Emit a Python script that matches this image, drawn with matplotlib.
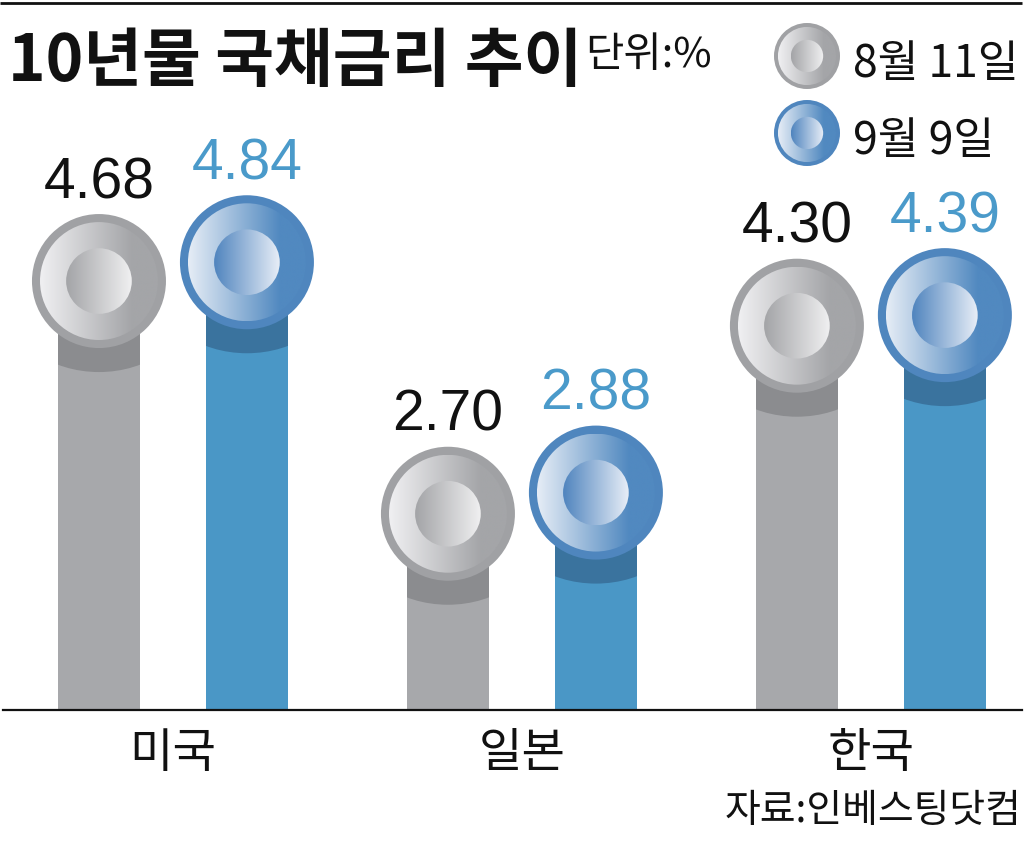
import numpy as np
import matplotlib
matplotlib.use('Agg')
import matplotlib.pyplot as plt
from matplotlib import font_manager, transforms
from matplotlib.patches import Circle, Ellipse
from matplotlib.colors import LinearSegmentedColormap

countries = ['미국', '일본', '한국']
series_names = ['8월 11일', '9월 9일']
aug_11 = [4.68, 2.70, 4.30]
sep_9 = [4.84, 2.88, 4.39]

available = {f.name for f in font_manager.fontManager.ttflist}
KR = 'Noto Sans CJK KR'
NUM = 'Liberation Sans Narrow' if 'Liberation Sans Narrow' in available else 'Liberation Sans'

INK = '#111111'
BLUE_TEXT = '#4a9aca'
PALETTES = {
    'gray': dict(bar='#a7a8ab', shadow='#8b8c8f', rim='#a0a1a4',
                 face=['#f0f0f2', '#a4a5a8', '#a4a5a8'],
                 inner=['#a3a4a7', '#f0f0f1']),
    'blue': dict(bar='#4a97c6', shadow='#3a739e', rim='#4f86be',
                 face=['#e6edf6', '#5189c0', '#5189c0'],
                 inner=['#4f84be', '#e8eef7']),
}
for p in PALETTES.values():
    p['face_cmap'] = LinearSegmentedColormap.from_list(
        'f', list(zip([0, 0.78, 1], p['face'])))
    p['inner_cmap'] = LinearSegmentedColormap.from_list('i', p['inner'])

W, H, DPI = 1027, 845, 100
fig = plt.figure(figsize=(W / DPI, H / DPI), dpi=DPI)
fig.patch.set_facecolor('white')

# chart area: baseline at y=711px, groups 349px apart
BASE, TOP = 1.03, 7.08
ax = fig.add_axes([3 / W, (H - 711) / H, 1019 / W, 711 / H])
ax.set_facecolor('white')
for side in ('top', 'right', 'left'):
    ax.spines[side].set_visible(False)
ax.spines['bottom'].set_color(INK)
ax.spines['bottom'].set_linewidth(1.6)
ax.set_yticks([])

x = np.arange(len(countries))
offset, width = 0.212, 0.235


def gradient_disc(axis, trans, r, cmap, zorder):
    disc = Circle((0, 0), r, transform=trans)
    grad = np.linspace(0, 1, 256).reshape(1, -1)
    im = axis.imshow(grad, cmap=cmap, extent=(-r, r, -r, r), transform=trans,
                     aspect='auto', interpolation='bilinear', zorder=zorder)
    im.set_clip_path(disc)


def knob(axis, trans, r, pal, zorder):
    axis.add_patch(Circle((0, 0), r, transform=trans, facecolor=pal['rim'],
                          edgecolor='none', zorder=zorder))
    gradient_disc(axis, trans, r * 0.88, pal['face_cmap'], zorder + 0.1)
    gradient_disc(axis, trans, r * 0.49, pal['inner_cmap'], zorder + 0.2)


px = transforms.Affine2D().scale(1 / DPI) + fig.dpi_scale_trans
R = 67

for vals, key, dx, color in [(aug_11, 'gray', -offset, INK),
                             (sep_9, 'blue', offset, BLUE_TEXT)]:
    pal = PALETTES[key]
    bars = ax.bar(x + dx, np.array(vals) - BASE, width, bottom=BASE,
                  color=pal['bar'], zorder=1)
    for xi, v, bar in zip(x + dx, vals, bars):
        trans = px + transforms.ScaledTranslation(xi, v, ax.transData)
        shadow = Ellipse((0, -24), 180, 2 * R, transform=trans,
                         facecolor=pal['shadow'], edgecolor='none', zorder=1.5)
        ax.add_patch(shadow)
        shadow.set_clip_path(bar)
        knob(ax, trans, R, pal, 2)
        ax.annotate(f'{v:.2f}', xy=(xi, v), xytext=(0, R + 17),
                    textcoords='offset pixels', ha='center', va='baseline',
                    fontsize=41, family=NUM, color=color, zorder=5)

ax.set_xticks(x, countries)
ax.tick_params(axis='x', length=0, pad=13, labelsize=34, labelcolor=INK)
for lab in ax.get_xticklabels():
    lab.set_family(KR)
ax.set_xlim(-0.487, 2.433)
ax.set_ylim(BASE, TOP)

# overlay in pixel units for title, legend and source
lay = fig.add_axes([0, 0, 1, 1])
lay.set_xlim(0, W)
lay.set_ylim(H, 0)
lay.axis('off')
lay.hlines(3.5, 0, 1022, color=INK, linewidth=2)
lay.text(8, 62, '10년물 국채금리 추이', family=KR, fontweight='bold',
         fontsize=46, color=INK, ha='left', va='center')
lay.text(585, 56, '단위:%', family=KR, fontsize=30, color=INK,
         ha='left', va='center')
for (name, key), cy in zip(zip(series_names, ['gray', 'blue']), [57, 134]):
    trans = transforms.Affine2D().translate(807, cy) + lay.transData
    knob(lay, trans, 33, PALETTES[key], 2)
    lay.text(853, cy + 7, name, family=KR, fontsize=32, color=INK,
             ha='left', va='center')
lay.text(1021, 811, '자료:인베스팅닷컴', family=KR, fontsize=28, color=INK,
         ha='right', va='center')
lay.set_xlim(0, W)
lay.set_ylim(H, 0)

fig.savefig('out.png', dpi=DPI, facecolor='white')
